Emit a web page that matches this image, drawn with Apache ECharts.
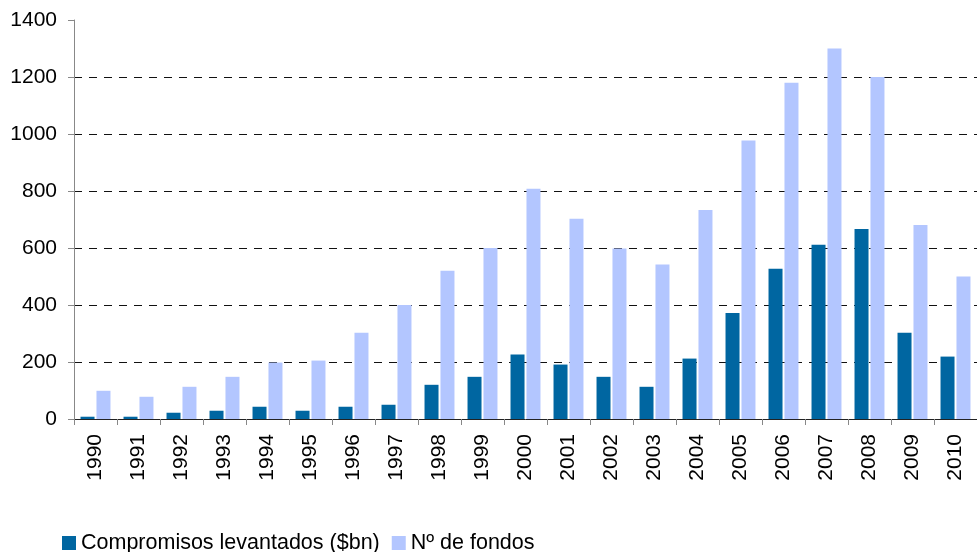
<!DOCTYPE html>
<html>
<head>
<meta charset="utf-8">
<script src="https://cdn.jsdelivr.net/npm/echarts@6/dist/echarts.min.js"></script>
<style>
html,body{margin:0;padding:0;background:#fff;}
#chart{width:977px;height:552px;}
</style>
</head>
<body>
<div id="chart"></div>
<script>
var years = ['1990','1991','1992','1993','1994','1995','1996','1997','1998','1999','2000','2001','2002','2003','2004','2005','2006','2007','2008','2009','2010'];
var compromisos = [8, 8, 22, 29, 43, 29, 43, 50, 120, 148, 226, 191, 148, 113, 212, 372, 527, 611, 667, 303, 219];
var fondos = [99, 78, 113, 148, 198, 205, 303, 400, 520, 600, 808, 703, 598, 542, 733, 977, 1180, 1300, 1200, 681, 500];
var seriesNames = ['Compromisos levantados ($bn)', 'Nº de fondos'];
var yTicks = {min: 0, max: 1400, interval: 200};

var chart = echarts.init(document.getElementById('chart'), null, {renderer: 'canvas'});
var font = 'Liberation Sans, Arial, sans-serif';
chart.setOption({
  animation: false,
  backgroundColor: '#ffffff',
  textStyle: {fontFamily: font},
  grid: {left: 74, right: -3, top: 20, bottom: 133, containLabel: false},
  legend: {
    left: 57, top: 527,
    itemWidth: 14, itemHeight: 14, itemGap: 12,
    icon: 'rect',
    textStyle: {fontSize: 21.5, color: '#000', fontFamily: font},
    data: seriesNames
  },
  xAxis: {
    type: 'category',
    data: years,
    axisLine: {show: true, lineStyle: {color: '#222', width: 1}},
    axisTick: {show: true, length: 6, lineStyle: {color: '#888'}},
    axisLabel: {rotate: 90, fontSize: 21, color: '#000', margin: 15, fontFamily: font, interval: 0}
  },
  yAxis: {
    type: 'value',
    min: yTicks.min, max: yTicks.max, interval: yTicks.interval,
    axisLine: {show: true, lineStyle: {color: '#888', width: 1}},
    axisTick: {show: true, inside: false, length: 6, lineStyle: {color: '#888'}},
    axisLabel: {fontSize: 21, color: '#000', margin: 17, fontFamily: font, formatter: function (v) { return String(v); }},
    splitLine: {show: true, showMaxLine: false, showMinLine: false, lineStyle: {color: '#111', type: [8, 7], width: 1}}
  },
  series: [
    {name: seriesNames[0], type: 'bar', data: compromisos, barWidth: 14, barGap: '14%', itemStyle: {color: '#0066a1'}},
    {name: seriesNames[1], type: 'bar', data: fondos, barWidth: 14, barGap: '14%', itemStyle: {color: '#b3c6ff'}}
  ]
});
</script>
</body>
</html>
